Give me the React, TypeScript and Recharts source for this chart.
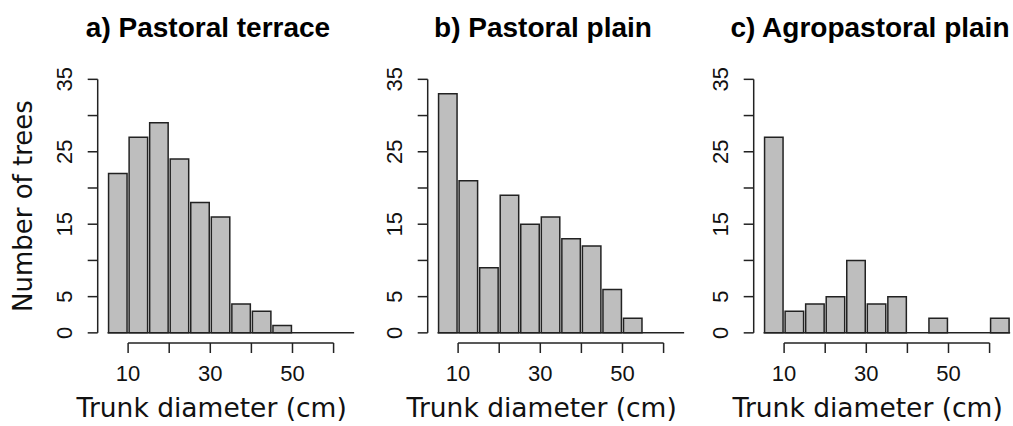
import { BarChart, Bar, XAxis, YAxis, ReferenceLine, Label } from 'recharts';

// histogram bins (cm), 5 cm wide
const binStart = [5, 10, 15, 20, 25, 30, 35, 40, 45, 50, 55, 60];
const BIN_W = 5;

const terraceCounts = [22, 27, 29, 24, 18, 16, 4, 3, 1, 0, 0, 0];
const plainCounts = [33, 21, 9, 19, 15, 16, 13, 12, 6, 2, 0, 0];
const agroCounts = [27, 3, 4, 5, 10, 4, 5, 0, 2, 0, 0, 2];

const xTicks = [10, 20, 30, 40, 50, 60];
const xTickLabels = [10, 30, 50];
const yTicks = [0, 5, 10, 15, 20, 25, 30, 35];
const yTickLabels = [0, 5, 15, 25, 35];

const titles = ['a) Pastoral terrace', 'b) Pastoral plain', 'c) Agropastoral plain'];
const XLAB = 'Trunk diameter (cm)';
const YLAB = 'Number of trees';

// R-style plot region: xlim/ylim padded by 4%
const X_DOM: [number, number] = [2.6, 67.4];
const Y_DOM: [number, number] = [-1.4, 36.4];

const AXIS_W = 97.7; // y-axis area width
const PLOT_W = 266.3;
const TOP = 69.2;
const X_H = 83;
const CHART_H = 426;
const CHART_W = AXIS_W + PLOT_W + 6;
const BAR_PX = (BIN_W / (X_DOM[1] - X_DOM[0])) * PLOT_W;

const INK = '#222';
const FILL = '#bebebe';
const FONT = '"DejaVu Sans", Verdana, sans-serif';
const TICK_FONT = '"Liberation Sans", Arial, sans-serif';

const panels = [
  { title: titles[0], counts: terraceCounts, left: 0, titleX: 208, yLabel: true },
  { title: titles[1], counts: plainCounts, left: 330, titleX: 543, yLabel: false },
  { title: titles[2], counts: agroCounts, left: 655.6, titleX: 870, yLabel: false },
];

function XTick({ x, y, payload }: any) {
  const show = xTickLabels.includes(payload.value);
  return (
    <text x={x} y={y} dy={28} textAnchor="middle" fontSize={22} fontFamily={TICK_FONT} fill="#111">
      {show ? payload.value : ''}
    </text>
  );
}

function YTick({ x, y, payload }: any) {
  const show = yTickLabels.includes(payload.value);
  const tx = x - 15.7;
  return (
    <text x={tx} y={y} textAnchor="middle" transform={`rotate(-90, ${tx}, ${y})`} fontSize={22} fontFamily={TICK_FONT} fill="#111">
      {show ? payload.value : ''}
    </text>
  );
}

function Panel({ counts, left, yLabel }: { counts: number[]; left: number; yLabel: boolean }) {
  const data = binStart.map((s, i) => ({ mid: s + BIN_W / 2, count: counts[i] }));
  const first = binStart[0];
  const last = binStart[binStart.length - 1] + BIN_W;
  return (
    <div style={{ position: 'absolute', left, top: 0 }}>
      <BarChart width={CHART_W} height={CHART_H} data={data} margin={{ top: TOP, right: 6, bottom: 0, left: 0 }}>
        <XAxis
          dataKey="mid"
          type="number"
          domain={X_DOM}
          allowDataOverflow
          ticks={xTicks}
          interval={0}
          height={X_H}
          axisLine={false}
          tickSize={10}
          tickMargin={0}
          tickLine={{ stroke: INK, strokeWidth: 1.5 }}
          tick={<XTick />}
        >
          <Label
            content={({ viewBox }: any) => (
              <text x={viewBox.x + 114} y={417} textAnchor="middle" fontSize={26.5} fontFamily={FONT} fill="#111">
                {XLAB}
              </text>
            )}
          />
        </XAxis>
        <YAxis
          type="number"
          domain={Y_DOM}
          allowDataOverflow
          ticks={yTicks}
          interval={0}
          width={AXIS_W}
          axisLine={false}
          tickSize={10}
          tickMargin={0}
          tickLine={{ stroke: INK, strokeWidth: 1.5 }}
          tick={<YTick />}
        >
          {yLabel && (
            <Label
              content={({ viewBox }: any) => {
                const cx = viewBox.x + 32;
                const cy = viewBox.y + viewBox.height / 2;
                return (
                  <text x={cx} y={cy} textAnchor="middle" transform={`rotate(-90, ${cx}, ${cy})`} fontSize={26} fontFamily={FONT} fill="#111">
                    {YLAB}
                  </text>
                );
              }}
            />
          )}
        </YAxis>
        <Bar dataKey="count" fill={FILL} stroke={INK} strokeWidth={1.5} barSize={BAR_PX} isAnimationActive={false} />
        <ReferenceLine
          segment={[{ x: first, y: 0 }, { x: last, y: 0 }]}
          stroke={INK}
          strokeWidth={1.5}
          ifOverflow="visible"
        />
        <ReferenceLine
          segment={[{ x: X_DOM[0], y: yTicks[0] }, { x: X_DOM[0], y: yTicks[yTicks.length - 1] }]}
          stroke={INK}
          strokeWidth={1.5}
          ifOverflow="visible"
        />
        <ReferenceLine
          segment={[{ x: xTicks[0], y: Y_DOM[0] }, { x: xTicks[xTicks.length - 1], y: Y_DOM[0] }]}
          stroke={INK}
          strokeWidth={1.5}
          ifOverflow="visible"
        />
      </BarChart>
    </div>
  );
}

export default function App() {
  return (
    <div style={{ position: 'absolute', left: 0, top: 0, width: 1013, height: 426, overflow: 'hidden', background: '#fff' }}>
      {panels.map((p) => (
        <Panel key={p.title} counts={p.counts} left={p.left} yLabel={p.yLabel} />
      ))}
      <svg width={1013} height={60} style={{ position: 'absolute', left: 0, top: 0 }}>
        {panels.map((p) => (
          <text
            key={p.title}
            x={p.titleX}
            y={37}
            textAnchor="middle"
            fontSize={28}
            fontWeight="bold"
            fontFamily='"Liberation Sans", Arial, sans-serif'
            fill="#000"
          >
            {p.title}
          </text>
        ))}
      </svg>
    </div>
  );
}
